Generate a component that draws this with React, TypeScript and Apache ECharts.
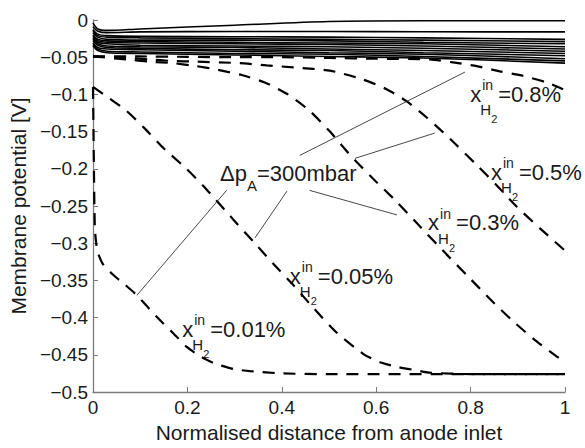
import React, { useEffect, useRef } from "react";
import * as echarts from "echarts";

const FONT = '"Liberation Sans", Arial, Helvetica, sans-serif';

// axis ticks
const X_MIN = 0;
const X_MAX = 1;
const X_STEP = 0.2;
const Y_MIN = -0.5;
const Y_MAX = 0;
const Y_STEP = 0.05;

// solid curves (sampled at SOLID_X)
const SOLID_X = [0, 0.01, 0.03, 0.1, 0.3, 0.5, 0.7, 1];
const SOLID_1 = [-0.004, -0.012, -0.014, -0.012, -0.007, -0.002, -0.001, -0.001];
const SOLID_2 = [-0.009, -0.015, -0.017, -0.016, -0.0155, -0.0155, -0.0158, -0.016];
const SOLID_3 = [-0.013, -0.019, -0.021, -0.022, -0.0225, -0.023, -0.024, -0.026];
const SOLID_4 = [-0.015, -0.021, -0.023, -0.024, -0.025, -0.026, -0.027, -0.029];
const SOLID_5 = [-0.017, -0.023, -0.026, -0.027, -0.027, -0.028, -0.03, -0.032];
const SOLID_6 = [-0.02, -0.026, -0.028, -0.029, -0.03, -0.031, -0.032, -0.036];
const SOLID_7 = [-0.022, -0.028, -0.03, -0.031, -0.032, -0.033, -0.035, -0.039];
const SOLID_8 = [-0.024, -0.03, -0.032, -0.034, -0.035, -0.036, -0.038, -0.042];
const SOLID_9 = [-0.026, -0.032, -0.035, -0.036, -0.037, -0.039, -0.041, -0.045];
const SOLID_10 = [-0.028, -0.034, -0.037, -0.038, -0.04, -0.041, -0.044, -0.048];
const SOLID_11 = [-0.031, -0.037, -0.039, -0.04, -0.042, -0.044, -0.046, -0.052];
const SOLID_12 = [-0.033, -0.039, -0.042, -0.043, -0.045, -0.046, -0.049, -0.055];
const SOLID_13 = [-0.035, -0.041, -0.044, -0.045, -0.047, -0.049, -0.051, -0.058];
const SOLID_ALL = [
  SOLID_1, SOLID_2, SOLID_3, SOLID_4, SOLID_5, SOLID_6, SOLID_7,
  SOLID_8, SOLID_9, SOLID_10, SOLID_11, SOLID_12, SOLID_13,
];

// dashed curves, [x, y]
const H2_08: number[][] = [
  [0, -0.049], [0.1, -0.049], [0.2, -0.0495], [0.3, -0.05], [0.4, -0.05],
  [0.5, -0.051], [0.6, -0.052], [0.714, -0.053], [0.763, -0.057], [0.813, -0.062],
  [0.862, -0.069], [0.911, -0.075], [0.961, -0.084], [0.995, -0.093], [1, -0.097],
];
const H2_05: number[][] = [
  [0, -0.049], [0.071, -0.051], [0.12, -0.053], [0.166, -0.055], [0.22, -0.056],
  [0.311, -0.058], [0.368, -0.061], [0.43, -0.064], [0.502, -0.068], [0.572, -0.08],
  [0.622, -0.093], [0.664, -0.109], [0.707, -0.131], [0.742, -0.151], [0.77, -0.168],
  [0.813, -0.195], [0.855, -0.222], [0.898, -0.251], [0.947, -0.28], [1, -0.31],
];
const H2_03: number[][] = [
  [0, -0.049], [0.071, -0.053], [0.12, -0.056], [0.17, -0.058], [0.219, -0.062],
  [0.265, -0.067], [0.315, -0.074], [0.364, -0.084], [0.413, -0.1], [0.459, -0.122],
  [0.502, -0.15], [0.544, -0.181], [0.593, -0.213], [0.643, -0.244], [0.689, -0.275],
  [0.749, -0.315], [0.792, -0.343], [0.841, -0.375], [0.89, -0.405], [0.94, -0.432],
  [0.982, -0.452], [1, -0.459],
];
const H2_005: number[][] = [
  [0, -0.09], [0.036, -0.106], [0.071, -0.122], [0.11, -0.146], [0.149, -0.172],
  [0.198, -0.2], [0.241, -0.228], [0.297, -0.268], [0.34, -0.298], [0.381, -0.327],
  [0.424, -0.356], [0.467, -0.387], [0.516, -0.42], [0.573, -0.449], [0.608, -0.46],
  [0.643, -0.466], [0.686, -0.471], [0.714, -0.474], [0.8, -0.476], [1, -0.476],
];
const H2_001: number[][] = [
  [0, -0.09], [0.002, -0.2], [0.004, -0.28], [0.009, -0.31], [0.021, -0.328],
  [0.042, -0.342], [0.068, -0.356], [0.093, -0.37], [0.135, -0.399], [0.17, -0.421],
  [0.198, -0.439], [0.227, -0.452], [0.255, -0.461], [0.297, -0.469], [0.333, -0.472],
  [0.4, -0.475], [0.5, -0.476], [1, -0.476],
];
const DASHED_ALL = [H2_08, H2_05, H2_03, H2_005, H2_001];

// annotation texts (anchor: left of "x", baseline) in data coordinates
const LABEL_VALUES = ["0.8%", "0.5%", "0.3%", "0.05%", "0.01%"];
const LABEL_ANCHORS: number[][] = [
  [0.799, -0.11], [0.843, -0.215], [0.71, -0.283], [0.417, -0.355], [0.189, -0.426],
];
const DP_TEXT = "=300mbar";
const DP_ANCHOR = [0.269, -0.217];

// leader lines from the Δp label to the curves
const LEADERS: number[][][] = [
  [[0.283, -0.229], [0.093, -0.37]],
  [[0.411, -0.23], [0.343, -0.293]],
  [[0.438, -0.182], [0.788, -0.07]],
  [[0.555, -0.186], [0.724, -0.152]],
  [[0.459, -0.229], [0.644, -0.262]],
];

const AXIS_COLOR = "#7a7a7a";
const TEXT_COLOR = "#1a1a1a";

function fmtY(v: number) {
  if (Math.abs(v) < 1e-9) return "0";
  return "\u2212" + String(parseFloat(Math.abs(v).toFixed(2)));
}
function fmtX(v: number) {
  return String(parseFloat(v.toFixed(1)));
}

function txt(text: string, x: number, baseline: number, fs: number) {
  return {
    type: "text",
    x,
    y: baseline - 0.35 * fs,
    silent: true,
    style: {
      text,
      fontSize: fs,
      fontFamily: FONT,
      fill: TEXT_COLOR,
      align: "left",
      verticalAlign: "middle",
    },
  };
}

export default function App() {
  const ref = useRef<HTMLDivElement>(null);
  useEffect(() => {
    if (!ref.current) return;
    const chart = echarts.init(ref.current, null, { renderer: "svg" });
    const series: any[] = [];
    SOLID_ALL.forEach((vals) => {
      series.push({
        type: "line",
        data: SOLID_X.map((x, i) => [x, vals[i]]),
        symbol: "none",
        smooth: 0.3,
        silent: true,
        lineStyle: { color: "#000", width: 1.6 },
        z: 2,
      });
    });
    DASHED_ALL.forEach((d) => {
      series.push({
        type: "line",
        data: d,
        symbol: "none",
        smooth: 0.2,
        silent: true,
        lineStyle: { color: "#000", width: 2.2, type: [12, 9] },
        z: 3,
      });
    });
    LEADERS.forEach((seg) => {
      series.push({
        type: "line",
        data: seg,
        symbol: "none",
        silent: true,
        lineStyle: { color: "#333", width: 0.9 },
        z: 4,
      });
    });
    chart.setOption({
      animation: false,
      grid: { left: 93, right: 20, top: 20, bottom: 52, containLabel: false },
      xAxis: {
        type: "value",
        min: X_MIN,
        max: X_MAX,
        interval: X_STEP,
        name: "Normalised distance from anode inlet",
        nameLocation: "middle",
        nameGap: 30,
        nameTextStyle: { fontSize: 21, color: TEXT_COLOR, fontFamily: FONT },
        axisLine: { show: true, onZero: false, lineStyle: { color: AXIS_COLOR, width: 1.3 } },
        axisTick: { show: true, inside: true, length: 5, lineStyle: { color: AXIS_COLOR } },
        axisLabel: { fontSize: 19, color: TEXT_COLOR, fontFamily: FONT, margin: 6, formatter: fmtX },
        splitLine: { show: false },
      },
      yAxis: {
        type: "value",
        min: Y_MIN,
        max: Y_MAX,
        interval: Y_STEP,
        name: "Membrane potential [V]",
        nameLocation: "middle",
        nameGap: 63,
        nameTextStyle: { fontSize: 21, color: TEXT_COLOR, fontFamily: FONT },
        axisLine: { show: true, onZero: false, lineStyle: { color: AXIS_COLOR, width: 1.3 } },
        axisTick: { show: true, inside: true, length: 5, lineStyle: { color: AXIS_COLOR } },
        axisLabel: { fontSize: 19, color: TEXT_COLOR, fontFamily: FONT, margin: 5, formatter: fmtY },
        splitLine: { show: false },
      },
      series,
    });

    const graphics: any[] = [];
    LABEL_ANCHORS.forEach((a, i) => {
      const p = chart.convertToPixel({ gridIndex: 0 }, a) as number[];
      const px = p[0];
      const pb = p[1];
      graphics.push(txt("x", px, pb, 22));
      graphics.push(txt("in", px + 12, pb - 12, 14));
      graphics.push(txt("H", px + 10, pb + 13, 15));
      graphics.push(txt("2", px + 21, pb + 21, 11));
      graphics.push(txt("=" + LABEL_VALUES[i], px + 28, pb, 22));
    });
    const dp = chart.convertToPixel({ gridIndex: 0 }, DP_ANCHOR) as number[];
    graphics.push(txt("\u0394p", dp[0], dp[1], 22));
    graphics.push(txt("A", dp[0] + 27, dp[1] + 9, 15));
    graphics.push(txt(DP_TEXT, dp[0] + 37, dp[1], 22));
    chart.setOption({ graphic: graphics });

    return () => chart.dispose();
  }, []);
  return (
    <div
      ref={ref}
      style={{ position: "fixed", left: 0, top: 0, width: 585, height: 448, background: "#fff" }}
    />
  );
}
